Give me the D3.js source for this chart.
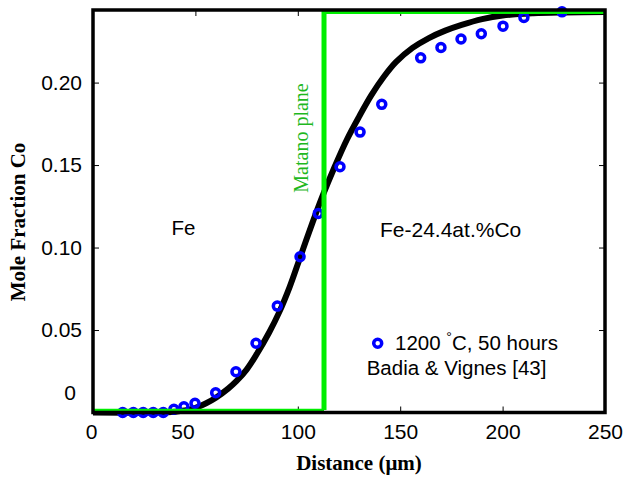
<!DOCTYPE html>
<html><head><meta charset="utf-8">
<script src="https://cdn.jsdelivr.net/npm/d3@7"></script>
<style>
html,body{margin:0;padding:0;background:#fff;}
svg{display:block;}
</style></head>
<body>
<svg id="chart" width="625" height="477"></svg>
<script>
// ---- data ----
const distData = [14.5, 19.7, 24.5, 29.4, 34.3, 39.5, 44.4, 49.8, 59.9, 69.8, 79.6, 90.0, 101.1, 110.0, 120.6, 130.4, 141.0, 160.0, 169.9, 179.7, 189.6, 200.2, 210.4, 229.0];
const fracData = [0.0, 0.0, 0.0, 0.0, 0.0, 0.002, 0.0035, 0.0056, 0.012, 0.0247, 0.042, 0.0645, 0.0944, 0.1207, 0.149, 0.170, 0.1868, 0.215, 0.2213, 0.2264, 0.2296, 0.2342, 0.2395, 0.2429];
const curveDist = [0, 30, 40, 48, 55, 60, 66, 70, 75, 80, 86, 91, 96, 101, 107, 112, 118, 124, 130, 136, 142, 148, 156, 164, 172, 180, 190, 200, 215, 230, 250];
const curveFrac = [0, 0, 0.0005, 0.002, 0.0055, 0.009, 0.0145, 0.019, 0.026, 0.0355, 0.0485, 0.061, 0.076, 0.0935, 0.1145, 0.131, 0.149, 0.1655, 0.1795, 0.1925, 0.2035, 0.2125, 0.221, 0.227, 0.2315, 0.235, 0.2385, 0.2407, 0.242, 0.2425, 0.2428];
const matanoX = 112.8;
const fracLow = 0.0015, fracHigh = 0.2425;
const xTicks = [0, 50, 100, 150, 200, 250];
const yTicks = [0, 0.05, 0.10, 0.15, 0.20];
const yTickLabels = ["0", "0.05", "0.10", "0.15", "0.20"];

// ---- layout ----
const svg = d3.select("#chart");
const L = 93, R = 605, T = 10, B = 412.5;
const x = d3.scaleLinear().domain([0, 250]).range([L, R]);
const y = d3.scaleLinear().domain([0, 0.244]).range([B, T]);
const sans = "'Liberation Sans', Arial, sans-serif";
const serif = "'Liberation Serif', 'Times New Roman', serif";
const green = "#00ee00";

// axes with inward ticks
const gB = svg.append("g").attr("transform", `translate(0,${B})`)
  .call(d3.axisBottom(x).tickValues(xTicks).tickSize(-6).tickPadding(12).tickFormat(d3.format("d")));
const gT = svg.append("g").attr("transform", `translate(0,${T})`)
  .call(d3.axisTop(x).tickValues(xTicks).tickSize(-6).tickFormat(""));
const gL = svg.append("g").attr("transform", `translate(${L},0)`)
  .call(d3.axisLeft(y).tickValues(yTicks).tickSize(-6).tickPadding(11).tickFormat((d, i) => yTickLabels[i]));
const gR = svg.append("g").attr("transform", `translate(${R},0)`)
  .call(d3.axisRight(y).tickValues(yTicks).tickSize(-6).tickFormat(""));
[gB, gT, gL, gR].forEach(g => {
  g.select(".domain").remove();
  g.selectAll(".tick line").attr("stroke", "#000").attr("stroke-width", 1);
  g.selectAll("text").attr("font-family", sans).attr("font-size", 21).attr("fill", "#000");
});
// nudge labels as in the reference
gB.selectAll(".tick text").filter(d => d === 50).attr("dx", -13);
gB.selectAll(".tick text").filter(d => d === 0).attr("dx", -2);
gL.selectAll(".tick text").filter(d => d === 0).attr("dx", -6).attr("dy", "-0.63em");

// curve
const line = d3.line().x(d => x(d[0])).y(d => y(d[1])).curve(d3.curveCatmullRom.alpha(0.5));
svg.append("path").datum(curveDist.map((d, i) => [d, curveFrac[i]]))
  .attr("d", line).attr("fill", "none").attr("stroke", "#000").attr("stroke-width", 6)
  .attr("stroke-linejoin", "round");

// data markers
svg.append("g").selectAll("circle").data(distData.map((d, i) => [d, fracData[i]]))
  .join("circle").attr("cx", d => x(d[0])).attr("cy", d => y(d[1])).attr("r", 4)
  .attr("fill", "none").attr("stroke", "#0000ff").attr("stroke-width", 3.5);

// Matano lines
svg.append("line").attr("x1", x(0)).attr("x2", x(matanoX)).attr("y1", y(fracLow)).attr("y2", y(fracLow))
  .attr("stroke", green).attr("stroke-width", 2.5);
svg.append("line").attr("x1", x(matanoX)).attr("x2", x(250)).attr("y1", y(fracHigh)).attr("y2", y(fracHigh))
  .attr("stroke", green).attr("stroke-width", 3);
svg.append("line").attr("x1", x(matanoX)).attr("x2", x(matanoX)).attr("y1", y(fracLow)).attr("y2", T)
  .attr("stroke", green).attr("stroke-width", 5);

// frame
svg.append("rect").attr("x", L).attr("y", T).attr("width", R - L).attr("height", B - T)
  .attr("fill", "none").attr("stroke", "#000").attr("stroke-width", 3.5);

// annotations
svg.append("text").attr("transform", "translate(307.5,138) rotate(-90)")
  .attr("text-anchor", "middle").attr("font-family", serif).attr("font-size", 20)
  .attr("fill", "#1fb81f").text("Matano plane");
svg.append("text").attr("x", 183.5).attr("y", 235).attr("text-anchor", "middle")
  .attr("font-family", sans).attr("font-size", 20.5).text("Fe");
svg.append("text").attr("x", 380).attr("y", 236.7).attr("text-anchor", "start")
  .attr("font-family", sans).attr("font-size", 21).text("Fe-24.4at.%Co");

// legend
svg.append("circle").attr("cx", 377.7).attr("cy", 343.3).attr("r", 4)
  .attr("fill", "none").attr("stroke", "#0000ff").attr("stroke-width", 3.5);
const lt = svg.append("text").attr("x", 395).attr("y", 350)
  .attr("font-family", sans).attr("font-size", 20.5);
lt.append("tspan").text("1200 ");
lt.append("tspan").attr("font-size", 14).attr("dy", -8).text("°");
lt.append("tspan").attr("dy", 8).text("C, 50 hours");
svg.append("text").attr("x", 366.7).attr("y", 374.5)
  .attr("font-family", sans).attr("font-size", 20.5).text("Badia & Vignes [43]");

// axis titles
svg.append("text").attr("transform", "translate(24.5,222) rotate(-90)")
  .attr("text-anchor", "middle").attr("font-family", serif).attr("font-weight", "bold")
  .attr("font-size", 21).text("Mole Fraction Co");
svg.append("text").attr("x", 359).attr("y", 470).attr("text-anchor", "middle")
  .attr("font-family", serif).attr("font-weight", "bold").attr("font-size", 21).text("Distance (μm)");
</script>
</body></html>
